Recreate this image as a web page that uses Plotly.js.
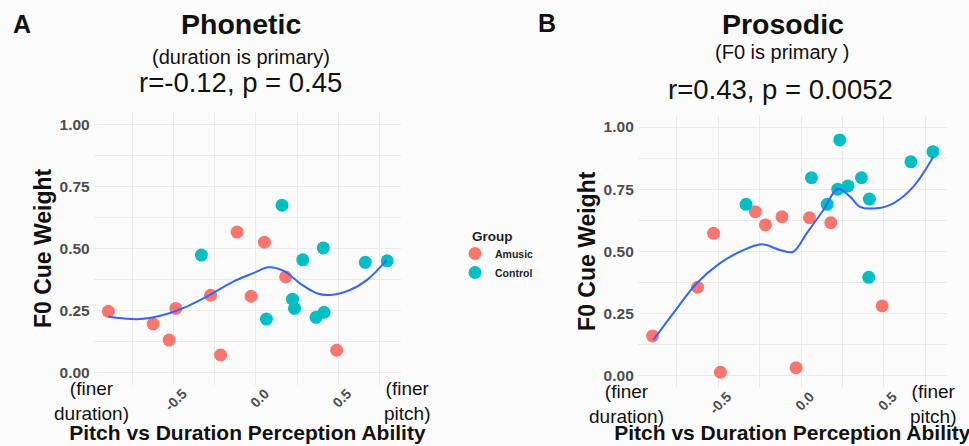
<!DOCTYPE html>
<html>
<head>
<meta charset="utf-8">
<script src="https://cdn.plot.ly/plotly-3.0.1.min.js"></script>
<style>html,body{margin:0;padding:0;background:#fff;}#chart{width:969px;height:446px;}</style>
</head>
<body>
<div id="chart"></div>
<script>
// ---- data ----
const amusicX = [-0.897, -0.625, -0.528, -0.487, -0.276, -0.215, -0.115, -0.030, 0.051, 0.180, 0.490];
const controlX = [-0.332, 0.063, 0.158, 0.222, 0.234, 0.284, 0.365, 0.409, 0.413, 0.664, 0.797];

const amusicPhonetic = [0.246, 0.195, 0.130, 0.258, 0.311, 0.070, 0.566, 0.307, 0.525, 0.385, 0.089];
const controlPhonetic = [0.473, 0.215, 0.674, 0.295, 0.258, 0.454, 0.222, 0.502, 0.242, 0.444, 0.450];

const amusicProsodic = [0.159, 0.355, 0.572, 0.013, 0.659, 0.606, 0.639, 0.031, 0.635, 0.615, 0.280];
const controlProsodic = [0.689, 0.796, 0.689, 0.750, 0.948, 0.763, 0.796, 0.395, 0.710, 0.860, 0.901];

// loess smooth curves
const smoothPhonX = [-0.897, -0.705, -0.543, -0.421, -0.300, -0.138, -0.016, 0.075, 0.166, 0.267, 0.369, 0.450, 0.571, 0.673, 0.794];
const smoothPhonY = [0.224, 0.215, 0.235, 0.265, 0.305, 0.366, 0.400, 0.424, 0.410, 0.359, 0.319, 0.312, 0.332, 0.372, 0.453];
const smoothProsX = [-0.892, -0.772, -0.630, -0.489, -0.369, -0.237, -0.127, -0.047, 0.034, 0.135, 0.222, 0.296, 0.356, 0.457, 0.558, 0.679, 0.799];
const smoothProsY = [0.143, 0.250, 0.371, 0.452, 0.498, 0.528, 0.505, 0.498, 0.572, 0.666, 0.751, 0.720, 0.679, 0.673, 0.693, 0.760, 0.880];

const groups = ['Amusic', 'Control'];
const xTickVals = [-0.5, 0, 0.5];
const xTickText = ['-0.5', '0.0', '0.5'];
const yTickVals = [0, 0.25, 0.5, 0.75, 1];
const yTickText = ['0.00', '0.25', '0.50', '0.75', '1.00'];

// ---- styling ----
const FONT = 'Liberation Sans, Arial, Helvetica, sans-serif';
const RED = '#F8766D', TEAL = '#00BFC4', LINE = '#3366FF';
const GRID = '#ebebeb';

const traces = [
  {x: amusicX, y: amusicPhonetic, type: 'scatter', mode: 'markers', name: groups[0], legendgroup: 'a',
   marker: {color: RED, size: 13}, xaxis: 'x', yaxis: 'y'},
  {x: controlX, y: controlPhonetic, type: 'scatter', mode: 'markers', name: groups[1], legendgroup: 'c',
   marker: {color: TEAL, size: 13}, xaxis: 'x', yaxis: 'y'},
  {x: smoothPhonX, y: smoothPhonY, type: 'scatter', mode: 'lines', showlegend: false,
   line: {color: LINE, width: 2, shape: 'spline'}, xaxis: 'x', yaxis: 'y'},
  {x: amusicX, y: amusicProsodic, type: 'scatter', mode: 'markers', name: groups[0], legendgroup: 'a', showlegend: false,
   marker: {color: RED, size: 13}, xaxis: 'x2', yaxis: 'y2'},
  {x: controlX, y: controlProsodic, type: 'scatter', mode: 'markers', name: groups[1], legendgroup: 'c', showlegend: false,
   marker: {color: TEAL, size: 13}, xaxis: 'x2', yaxis: 'y2'},
  {x: smoothProsX, y: smoothProsY, type: 'scatter', mode: 'lines', showlegend: false,
   line: {color: LINE, width: 2, shape: 'spline'}, xaxis: 'x2', yaxis: 'y2'}
];

function xAxis(domain, anchor, standoff) {
  return {
    domain: domain, anchor: anchor, range: [-0.986, 0.882],
    tickvals: xTickVals, ticktext: xTickText, tickangle: -45,
    ticklabelshift: 9, ticklabelstandoff: -3,
    tickfont: {family: FONT, size: 14, color: '#4d4d4d', weight: 'bold'},
    showgrid: true, gridcolor: GRID, gridwidth: 1, zeroline: false, showline: false, ticks: '',
    minor: {tickvals: [-0.75, -0.25, 0.25, 0.75], showgrid: true, gridcolor: GRID, gridwidth: 1},
    title: {text: 'Pitch vs Duration Perception Ability', standoff: standoff,
            font: {family: FONT, size: 21, color: '#111', weight: 'bold'}},
    automargin: false
  };
}
function yAxis(domain, anchor) {
  return {
    domain: domain, anchor: anchor, range: [-0.05, 1.05],
    tickvals: yTickVals, ticktext: yTickText, ticklabelstandoff: 3,
    tickfont: {family: FONT, size: 15.5, color: '#4d4d4d', weight: 'bold'},
    showgrid: true, gridcolor: GRID, gridwidth: 1, zeroline: false, showline: false, ticks: '',
    minor: {tickvals: [0.125, 0.375, 0.625, 0.875], showgrid: true, gridcolor: GRID, gridwidth: 1},
    title: {text: 'F0 Cue Weight', standoff: 1,
            font: {family: FONT, size: 23, color: '#111', weight: 'bold'}},
    automargin: false
  };
}

function txt(text, x, y, size, bold) {
  return {text: text, x: x / 969, y: 1 - y / 446, xref: 'paper', yref: 'paper',
          xanchor: 'center', yanchor: 'middle', showarrow: false,
          font: {family: FONT, size: size, color: '#111', weight: bold ? 'bold' : 'normal'}};
}

const layout = {
  width: 969, height: 446,
  margin: {l: 0, r: 0, t: 0, b: 0},
  paper_bgcolor: '#fcfcfd', plot_bgcolor: '#fcfcfd',
  xaxis: xAxis([0.0967, 0.4140], 'y', 12),
  yaxis: yAxis([0.1374, 0.7487], 'x'),
  xaxis2: xAxis([0.6582, 0.9773], 'y2', 9),
  yaxis2: yAxis([0.1303, 0.7430], 'x2'),
  showlegend: true,
  legend: {x: 455 / 969, y: 1 - 239 / 446, xanchor: 'left', yanchor: 'top',
           bgcolor: 'rgba(0,0,0,0)', tracegroupgap: 0, itemwidth: 30,
           font: {family: FONT, size: 10.5, color: '#222', weight: 'bold'}},
  annotations: [
    {text: 'Group', x: 470 / 969, y: 1 - 236 / 446, xref: 'paper', yref: 'paper',
     xanchor: 'left', yanchor: 'middle', showarrow: false,
     font: {family: FONT, size: 13.5, color: '#222', weight: 'bold'}},
    txt('A', 22, 24, 25, true),
    txt('B', 547, 23, 25, true),
    txt('Phonetic', 241, 24, 28.5, true),
    txt('(duration is primary)', 241, 57, 20, false),
    txt('r=-0.12, p = 0.45', 240, 83, 27.5, false),
    txt('Prosodic', 783, 24, 28.5, true),
    txt('(F0 is primary )', 782, 52, 20, false),
    txt('r=0.43, p = 0.0052', 780, 89, 27.5, false),
    txt('(finer<br>duration)', 91, 401, 19, false),
    txt('(finer<br>pitch)', 407, 401, 19, false),
    txt('(finer<br>duration)', 626, 404, 19, false),
    txt('(finer<br>pitch)', 933, 404, 19, false)
  ]
};

Plotly.newPlot('chart', traces, layout, {displayModeBar: false, staticPlot: true});
</script>
</body>
</html>
